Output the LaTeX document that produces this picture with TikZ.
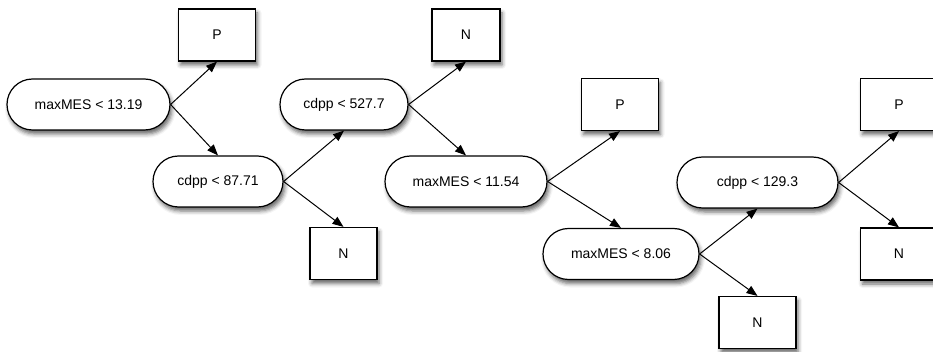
\documentclass[tikz,border=0pt]{standalone}
\usepackage{fontspec}
\setmainfont{Liberation Sans}
\usetikzlibrary{arrows.meta,shapes.misc,shadows.blur}
\tikzset{
  test/.style={draw, rounded rectangle, fill=white, line width=1.2pt, minimum height=51pt, inner xsep=0pt,
    font=\fontsize{14}{16}\selectfont, blur shadow={shadow xshift=2pt, shadow yshift=-4pt, shadow blur radius=4pt, shadow opacity=60}},
  leaf/.style={draw, rectangle, fill=white, line width=1.2pt, minimum width=77pt, minimum height=52pt,
    font=\fontsize{14}{16}\selectfont, blur shadow={shadow xshift=2pt, shadow yshift=-4pt, shadow blur radius=4pt, shadow opacity=60}},
  arrow/.style={-{Triangle[length=11pt, width=8.5pt]}, line width=1pt}
}
\begin{document}
\begin{tikzpicture}[x=1pt, y=-1pt]
    \useasboundingbox (0,0) rectangle (933,352);
    \node[test, minimum width=163pt] (mes1) at (88.5,104.5) {maxMES < 13.19};
    \node[test, minimum width=130pt] (cdppA) at (218,181.5) {cdpp < 87.71};
    \node[test, minimum width=128pt] (cdppB) at (344,104.5) {cdpp < 527.7};
    \node[test, minimum width=162pt] (mes2) at (466,181.5) {maxMES < 11.54};
    \node[test, minimum width=156pt] (mes3) at (621,254) {maxMES < 8.06};
    \node[test, minimum width=161pt] (cdppC) at (757.5,182.5) {cdpp < 129.3};

    \node[leaf] (p1) at (217,35) {P};
    \node[leaf, minimum width=68pt] (n2) at (466,35) {N};
    \node[leaf, minimum width=67pt] (n1) at (343.5,253.5) {N};
    \node[leaf] (p2) at (620,104.5) {P};
    \node[leaf] (n3) at (757.5,322.5) {N};
    \node[leaf] (p3) at (899,104.5) {P};
    \node[leaf] (n4) at (899,254) {N};

    \draw[arrow] (mes1.east) -- (p1.south);
    \draw[arrow] (mes1.east) -- (cdppA.north);
    \draw[arrow] (cdppA.east) -- (cdppB.south);
    \draw[arrow] (cdppA.east) -- (n1.north);
    \draw[arrow] (cdppB.east) -- (n2.south);
    \draw[arrow] (cdppB.east) -- (mes2.north);
    \draw[arrow] (mes2.east) -- (p2.south);
    \draw[arrow] (mes2.east) -- (mes3.north);
    \draw[arrow] (mes3.east) -- (cdppC.south);
    \draw[arrow] (mes3.east) -- (n3.north);
    \draw[arrow] (cdppC.east) -- (p3.south);
    \draw[arrow] (cdppC.east) -- (n4.north);
\end{tikzpicture}
\end{document}
